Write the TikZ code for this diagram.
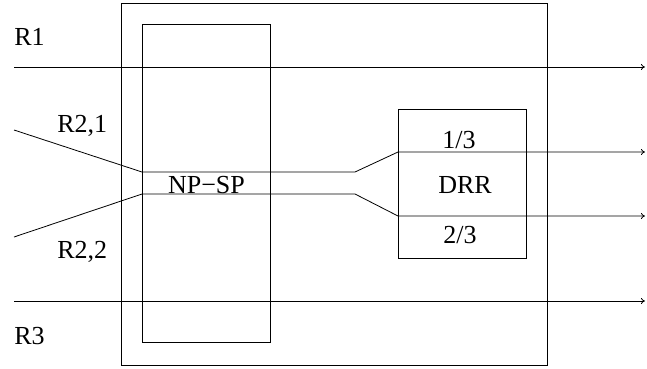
\documentclass[tikz,border=0pt]{standalone}
\usepackage{fontspec}
\setmainfont{Liberation Serif}
\usetikzlibrary{arrows.meta}
\begin{document}
\begin{tikzpicture}[x=1pt,y=-1pt,line width=0.8pt,
  box/.style={draw,line width=0.8pt,inner sep=0pt,outer sep=0pt,anchor=north west},
  lbl/.style={inner sep=0pt,font=\fontsize{26}{30}\selectfont},
  flow/.style={-{To[length=4pt,width=6pt]}}]
\useasboundingbox (0,0) rectangle (647,368);
% boxes
\node[box,minimum width=426pt,minimum height=362pt] (outer) at (121,3) {};
\node[box,minimum width=128pt,minimum height=318pt] (np) at (142,24) {};
\node[box,minimum width=128pt,minimum height=149pt] (drr) at (398,109) {};
% points
\coordinate (r1s) at (14,67);  \coordinate (r1e) at (645,67);
\coordinate (r3s) at (14,301); \coordinate (r3e) at (645,301);
\coordinate (a0) at (14,130);  \coordinate (a1) at (142,172);
\coordinate (a2) at (355,172); \coordinate (a3) at (398,152);
\coordinate (a4) at (645,152);
\coordinate (b0) at (14,237);  \coordinate (b1) at (142,194);
\coordinate (b2) at (355,194); \coordinate (b3) at (398,216);
\coordinate (b4) at (645,216);
% connectors
\draw[flow] (r1s) -- (r1e);
\draw[flow] (r3s) -- (r3e);
\draw[flow] (a0) -- (a1) -- (a2) -- (a3) -- (a4);
\draw[flow] (b0) -- (b1) -- (b2) -- (b3) -- (b4);
% labels
\node[lbl,anchor=base west] (l1) at (14,45) {R1};
\node[lbl,anchor=base west] (l21) at (57,132) {R2,1};
\node[lbl,anchor=base west] (l22) at (57,258) {R2,2};
\node[lbl,anchor=base west] (l3) at (14,344) {R3};
\node[lbl,anchor=base] (lnp) at (206.5,193) {NP\textminus SP};
\node[lbl,anchor=base] (l13) at (459,148) {1/3};
\node[lbl,anchor=base] (ldrr) at (465,193) {DRR};
\node[lbl,anchor=base] (l23) at (460,243) {2/3};
\end{tikzpicture}
\end{document}
